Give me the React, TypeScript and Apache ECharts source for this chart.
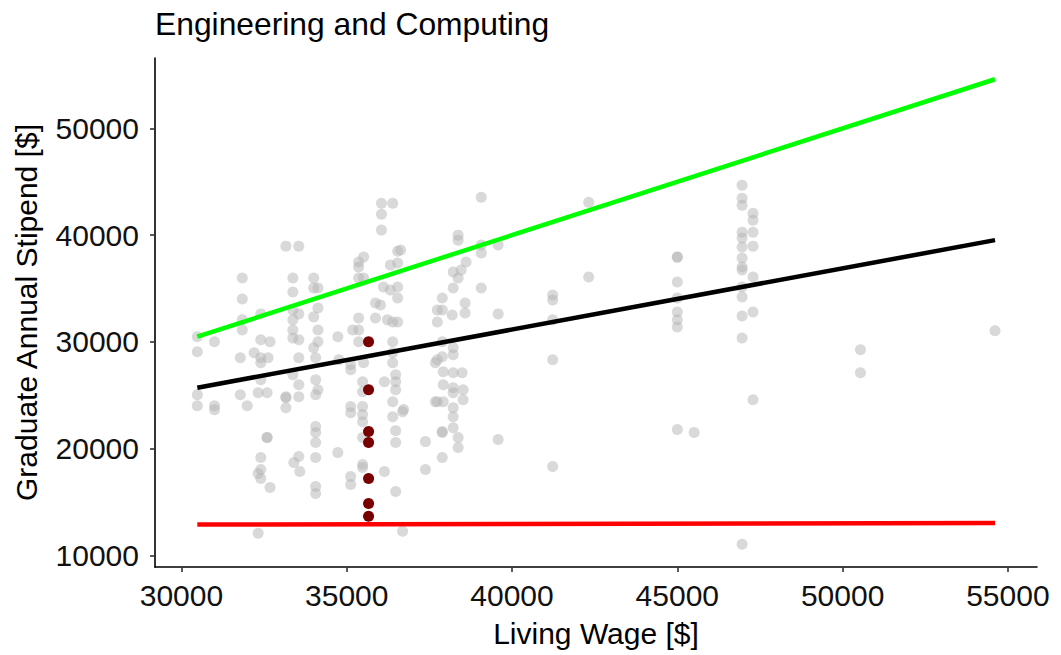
import React, { useEffect, useRef } from "react";
import * as echarts from "echarts";

const titleText = "Engineering and Computing";
const xAxisName = "Living Wage [$]";
const yAxisName = "Graduate Annual Stipend [$]";

const xTicks = [30000, 35000, 40000, 45000, 50000, 55000];
const yTicks = [10000, 20000, 30000, 40000, 50000];

// All universities (grey)
const grayPoints: [number, number][] = [
  [30480, 30470], [30480, 29070], [30480, 25050], [30480, 24020],
  [31000, 30000], [31000, 24020], [31000, 23640],
  [31840, 35980], [31840, 34020], [31840, 32060], [31840, 31120], [31780, 28500], [31780, 25050], [31990, 24020],
  [32400, 32620], [32400, 30190], [32680, 30000], [32200, 28970], [32400, 28500], [32400, 28040], [32620, 28500],
  [32400, 26450], [32320, 25230], [32590, 25230],
  [32590, 21030], [32590, 21030], [32400, 19160], [32400, 18040], [32320, 17660], [32400, 17200], [32680, 16360], [32320, 12060],
  [33160, 38970], [33550, 38970], [33370, 35980], [33370, 34670], [33370, 32990], [33370, 32060], [33370, 31120], [33370, 30370],
  [33550, 32620], [33550, 30190], [33550, 28500], [33370, 26920], [33550, 25980], [33160, 24860], [33160, 23830], [33160, 24770],
  [33550, 24860], [33400, 18690], [33550, 19250], [33580, 17850],
  [34000, 35980], [34000, 35050], [34130, 35050], [34130, 33180], [34000, 32340], [34130, 31120], [34130, 30000], [34000, 29440],
  [34060, 28500], [34060, 26450], [34130, 25510], [34060, 25050], [34060, 22060], [34060, 21500], [34060, 20560], [34060, 19160],
  [34060, 16450], [34060, 15790], [34730, 30470], [34730, 19630], [34760, 28320],
  [35120, 27850], [35120, 27380], [35510, 28040], [35360, 32240], [35360, 31120], [35180, 31120], [35360, 30000], [35360, 37480],
  [35360, 37010], [35360, 35980], [35510, 35980], [35510, 37940], [35870, 33650], [36020, 33460], [35870, 32240], [35480, 26260],
  [35480, 25330], [35120, 23930], [35120, 23360], [35480, 23930], [35480, 23180], [35480, 22520], [35480, 21030], [35480, 18500],
  [35480, 18220], [35120, 17380], [35120, 16640], [36140, 17850], [36140, 26260],
  [36050, 42990], [36390, 42990], [36050, 41960], [36050, 40470], [36540, 38500], [36320, 37200], [36540, 37380], [36110, 35140],
  [36320, 34860], [36540, 35140], [36540, 34110], [36390, 31870], [36540, 31870], [36230, 32060], [36390, 30000], [36390, 28970],
  [36390, 28040], [36480, 26920], [36480, 26260], [36480, 25510], [36390, 24390], [36690, 23460], [36390, 22990], [36480, 21680],
  [36480, 20560], [36480, 15980], [36690, 12240], [36630, 38600], [36720, 23650],
  [37380, 20650], [37380, 18040], [37680, 28040], [37920, 27200], [37920, 25980], [37680, 24390], [37920, 24390], [37890, 21590],
  [37890, 19160], [37890, 34110], [37740, 32990], [37890, 32990], [37740, 31870], [38190, 32520], [38220, 35050], [38220, 36540],
  [38370, 35980], [38460, 36730], [38610, 37480], [38370, 40000], [38370, 39530], [38580, 33650], [38580, 32710], [37890, 30000],
  [37740, 28320], [37890, 28600], [38220, 29440], [38220, 28790], [38220, 27100], [38490, 27100], [38220, 25700], [38220, 25230],
  [38520, 25510], [38520, 24580], [37740, 24390], [38220, 23830], [38220, 22990], [38220, 21960], [37890, 21500], [38370, 21030],
  [38370, 20090],
  [39070, 43550], [39070, 39070], [39070, 38320], [39070, 35050], [39580, 39070], [39580, 32620], [39580, 20840],
  [41230, 34390], [41230, 33930], [41230, 32060], [41230, 28320], [41230, 18320],
  [42320, 43080], [42320, 36080],
  [45000, 37940], [45000, 37940], [45000, 35610], [45000, 34110], [45000, 32800], [45000, 32060], [45000, 31400], [45000, 21780],
  [45510, 21500],
  [46960, 44670], [46960, 43460], [46960, 42800], [47290, 42060], [47290, 41400], [47290, 40280], [47290, 38970], [46960, 40280],
  [46960, 39720], [46960, 38880], [46960, 37850], [46960, 37010], [46960, 36730], [47290, 36080], [46960, 35140], [46960, 34210],
  [47290, 32800], [46960, 32430], [46960, 30370], [47290, 24580], [46960, 11030],
  [50540, 29250], [50540, 27100],
  [54610, 31030],
];

// Highlighted university (dark red)
const highlightPoints: [number, number][] = [
  [35660, 30000], [35660, 25510], [35660, 21590], [35660, 20560], [35660, 17200], [35660, 14860], [35660, 13650],
];

// Reference lines
const parityLine: [number, number][] = [[30480, 30480], [54610, 54610]];
const fitLine: [number, number][] = [[30480, 25700], [54610, 39530]];
const povertyLine: [number, number][] = [[30480, 12880], [54610, 13030]];

const FONT = "'Liberation Sans', Arial, Helvetica, sans-serif";

export default function App() {
  const ref = useRef<HTMLDivElement>(null);

  useEffect(() => {
    document.body.style.margin = "0";
    if (!ref.current) return;
    const chart = echarts.init(ref.current, undefined, { renderer: "svg" });
    const lineSeries = (data: [number, number][], color: string) => ({
      type: "line",
      data,
      symbol: "none",
      lineStyle: { color, width: 4.5 },
      z: 3,
      silent: true,
    });
    chart.setOption({
      animation: false,
      backgroundColor: "#ffffff",
      textStyle: { fontFamily: FONT },
      title: {
        text: titleText,
        left: 155,
        top: 8,
        padding: 0,
        textStyle: { fontFamily: FONT, fontSize: 31.8, fontWeight: "normal", color: "#000" },
      },
      grid: { left: 155, right: 24, top: 58, bottom: 88, containLabel: false },
      xAxis: {
        type: "value",
        min: 29200,
        max: 55880,
        name: xAxisName,
        nameLocation: "middle",
        nameGap: 66,
        nameTextStyle: { fontFamily: FONT, fontSize: 30, color: "#000", verticalAlign: "middle", align: "center" },
        splitLine: { show: false },
        axisLine: { show: true, onZero: false, lineStyle: { color: "#000", width: 1.6 } },
        axisTick: { show: true, length: 5, lineStyle: { color: "#333", width: 1.6 }, customValues: xTicks },
        axisLabel: {
          fontFamily: FONT, fontSize: 30, color: "#111", margin: 13, customValues: xTicks,
          formatter: (v: number) => String(v),
        },
      },
      yAxis: {
        type: "value",
        min: 8900,
        max: 56600,
        name: yAxisName,
        nameLocation: "middle",
        nameGap: 129,
        nameRotate: 90,
        nameTextStyle: { fontFamily: FONT, fontSize: 30, color: "#000", verticalAlign: "middle", align: "center" },
        splitLine: { show: false },
        axisLine: { show: true, onZero: false, lineStyle: { color: "#000", width: 1.6 } },
        axisTick: { show: true, length: 5, lineStyle: { color: "#333", width: 1.6 }, customValues: yTicks },
        axisLabel: {
          fontFamily: FONT, fontSize: 30, color: "#111", margin: 16, customValues: yTicks,
          formatter: (v: number) => String(v),
        },
      },
      series: [
        {
          type: "scatter",
          data: grayPoints,
          symbolSize: 11,
          itemStyle: { color: "rgba(179,179,179,0.5)", opacity: 1 },
          z: 2,
        },
        lineSeries(parityLine, "#00ff00"),
        lineSeries(fitLine, "#000000"),
        lineSeries(povertyLine, "#ff0000"),
        {
          type: "scatter",
          data: highlightPoints,
          symbolSize: 11,
          itemStyle: { color: "#780000", opacity: 1 },
          z: 4,
        },
      ],
    });
    return () => chart.dispose();
  }, []);

  return <div ref={ref} style={{ width: 1061, height: 655 }} />;
}
